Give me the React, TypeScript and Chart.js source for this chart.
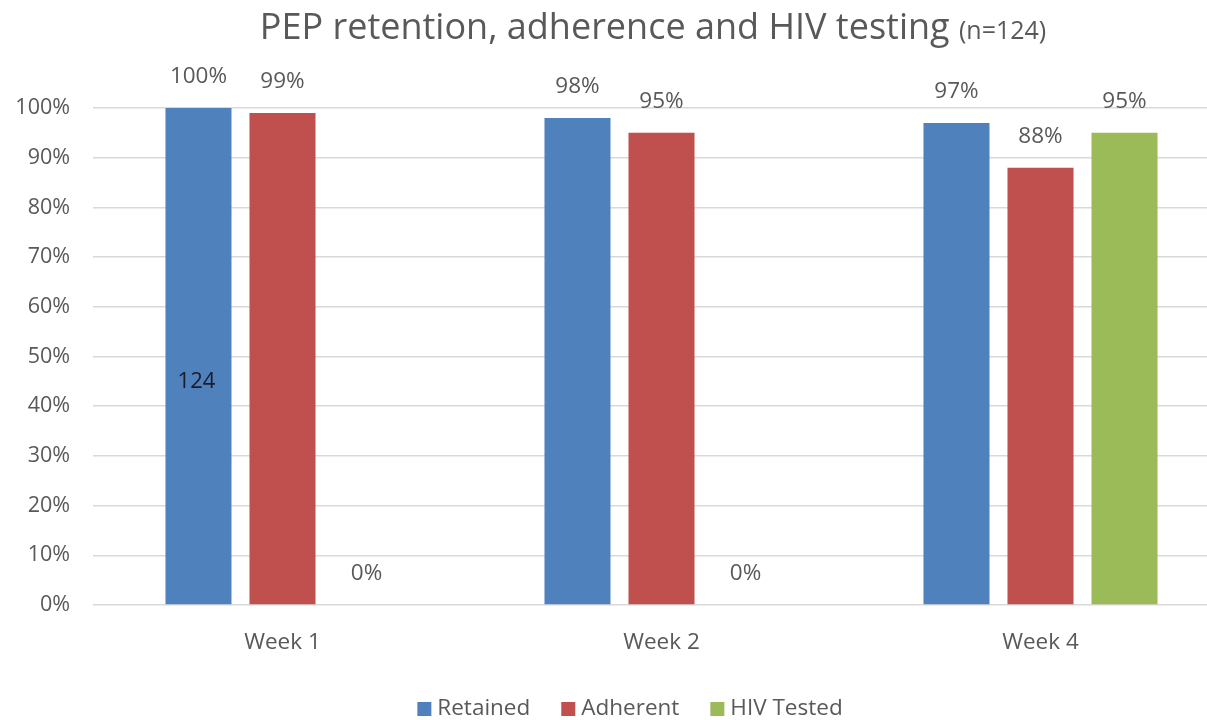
import React, { useEffect, useRef } from "react";
import { Chart, registerables } from "chart.js";

Chart.register(...registerables);

const categories = ["Week 1", "Week 2", "Week 4"];
const seriesNames = ["Retained", "Adherent", "HIV Tested"];
const retained = [100, 98, 97];
const adherent = [99, 95, 88];
const hivTested = [0, 0, 95];
const retainedInnerLabels = ["124", "", ""];
const yTickValues = [0, 10, 20, 30, 40, 50, 60, 70, 80, 90, 100];
const titleMain = "PEP retention, adherence and HIV testing";
const titleSuffix = "(n=124)";

const COLORS = ["#4F81BD", "#C0504D", "#9BBB59"];
const TEXT = "#595959";
const FONT = "'Open Sans', sans-serif";

const overlayPlugin = {
  id: "overlay",
  afterDatasetsDraw(chart: any) {
    const ctx = chart.ctx;
    ctx.save();
    // value labels above bars
    ctx.font = `22.5px ${FONT}`;
    ctx.fillStyle = TEXT;
    ctx.textAlign = "center";
    ctx.textBaseline = "middle";
    chart.data.datasets.forEach((ds: any, di: number) => {
      const meta = chart.getDatasetMeta(di);
      meta.data.forEach((bar: any, i: number) => {
        ctx.fillText(`${ds.data[i]}%`, bar.x, bar.y - 31);
      });
    });
    // inner count label on Retained
    const yScale = chart.scales.y;
    const meta0 = chart.getDatasetMeta(0);
    ctx.fillStyle = "#1B1B2A";
    ctx.font = `22px ${FONT}`;
    retainedInnerLabels.forEach((t, i) => {
      if (!t) return;
      ctx.fillText(t, meta0.data[i].x - 2, yScale.getPixelForValue(45));
    });
    // title
    ctx.fillStyle = TEXT;
    ctx.textAlign = "left";
    ctx.textBaseline = "alphabetic";
    ctx.font = `36px ${FONT}`;
    const w1 = ctx.measureText(titleMain + " ").width;
    ctx.font = `25px ${FONT}`;
    const w2 = ctx.measureText(titleSuffix).width;
    let tx = 653 - (w1 + w2) / 2;
    ctx.font = `36px ${FONT}`;
    ctx.fillText(titleMain + " ", tx, 39);
    ctx.font = `25px ${FONT}`;
    ctx.fillText(titleSuffix, tx + w1, 39);
    // legend
    ctx.font = `22.5px ${FONT}`;
    const box = 14;
    const gapBox = 6;
    const gapItem = 31;
    const widths = seriesNames.map((n) => box + gapBox + ctx.measureText(n).width);
    const total = widths.reduce((a, b) => a + b, 0) + gapItem * (seriesNames.length - 1);
    let lx = 630 - total / 2;
    const ly = 709;
    ctx.textBaseline = "middle";
    seriesNames.forEach((n, i) => {
      ctx.fillStyle = COLORS[i];
      ctx.fillRect(lx, ly - box / 2, box, box);
      ctx.fillStyle = TEXT;
      ctx.fillText(n, lx + box + gapBox, ly);
      lx += widths[i] + gapItem;
    });
    ctx.restore();
  },
};

export default function App() {
  const ref = useRef<HTMLCanvasElement>(null);
  useEffect(() => {
    if (!ref.current) return;
    const chart = new Chart(ref.current, {
      type: "bar",
      data: {
        labels: categories,
        datasets: [retained, adherent, hivTested].map((d, i) => ({
          label: seriesNames[i],
          data: d,
          backgroundColor: COLORS[i],
          borderWidth: 0,
          barPercentage: 0.786,
          categoryPercentage: 0.665,
        })),
      },
      options: {
        animation: false,
        responsive: false,
        maintainAspectRatio: false,
        layout: { padding: { top: 108, left: 0, right: 0, bottom: 0 } },
        plugins: {
          legend: { display: false },
          title: { display: false },
          tooltip: { enabled: false },
        },
        scales: {
          x: {
            grid: { display: false, drawTicks: false },
            border: { display: false },
            ticks: { color: TEXT, font: { family: FONT, size: 22.5 }, padding: 24 },
            afterFit: (s: any) => {
              s.height = 115;
            },
          },
          y: {
            min: 0,
            max: 100,
            afterBuildTicks: (s: any) => {
              s.ticks = yTickValues.map((v) => ({ value: v }));
            },
            grid: { color: "#D9D9D9", lineWidth: 1.5, drawTicks: false },
            border: { display: false },
            ticks: {
              color: TEXT,
              font: { family: FONT, size: 21.5 },
              padding: 23,
              callback: (v: any) => `${v}%`,
            },
            afterFit: (s: any) => {
              s.width = 93;
            },
          },
        },
      },
      plugins: [overlayPlugin],
    });
    return () => chart.destroy();
  }, []);
  return (
    <div style={{ position: "fixed", left: 0, top: 0, width: 1207, height: 720, overflow: "hidden", background: "#fff" }}>
      <canvas ref={ref} width={1230} height={720} style={{ display: "block", width: 1230, height: 720 }} />
    </div>
  );
}
